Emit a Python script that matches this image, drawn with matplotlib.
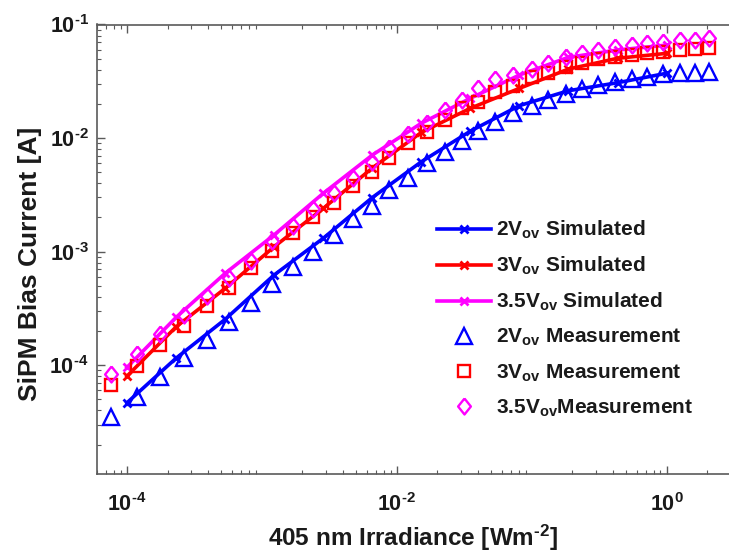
import numpy as np
import matplotlib
matplotlib.use("Agg")
import matplotlib.pyplot as plt
from matplotlib.ticker import LogLocator, NullFormatter

plt.rcParams['font.family'] = ['Liberation Sans', 'DejaVu Sans']
plt.rcParams['font.weight'] = 'bold'
plt.rcParams['mathtext.fontset'] = 'custom'
plt.rcParams['mathtext.rm'] = 'Liberation Sans:bold'
plt.rcParams['mathtext.bf'] = 'Liberation Sans:bold'
plt.rcParams['mathtext.it'] = 'Liberation Sans:bold'

# simulated (12 pts, 1e-4 .. 1)
sim_irr = [1.0e-4, 2.31e-4, 5.34e-4, 1.23e-3, 2.85e-3, 6.58e-3,
           1.52e-2, 3.51e-2, 8.11e-2, 0.187, 0.433, 1.0]
sim_2v = [4.66e-5, 1.15e-4, 2.53e-4, 6.21e-4, 1.31e-3, 2.99e-3,
          6.18e-3, 1.15e-2, 1.93e-2, 2.61e-2, 3.07e-2, 3.72e-2]
sim_3v = [8.0e-5, 2.17e-4, 4.74e-4, 1.10e-3, 2.40e-3, 5.44e-3,
          1.12e-2, 1.83e-2, 2.74e-2, 4.05e-2, 5.04e-2, 5.57e-2]
sim_35v = [9.55e-5, 2.63e-4, 6.43e-4, 1.40e-3, 3.26e-3, 7.08e-3,
           1.35e-2, 2.24e-2, 3.59e-2, 5.14e-2, 5.96e-2, 6.59e-2]

# measurement
meas_irr = [7.67e-5, 1.19e-4, 1.77e-4, 2.66e-4, 3.95e-4, 5.70e-4, 8.24e-4,
            1.18e-3, 1.70e-3, 2.38e-3, 3.41e-3, 4.70e-3, 6.53e-3, 8.81e-3,
            1.22e-2, 1.67e-2, 2.28e-2, 3.03e-2, 4.02e-2, 5.34e-2, 7.31e-2,
            0.100, 0.133, 0.179, 0.234, 0.311, 0.414, 0.551, 0.711, 0.944,
            1.26, 1.62, 2.07]
meas_2v = [3.50e-5, 5.26e-5, 7.89e-5, 1.15e-4, 1.68e-4, 2.41e-4, 3.54e-4,
           5.14e-4, 7.35e-4, 9.96e-4, 1.40e-3, 1.92e-3, 2.53e-3, 3.48e-3,
           4.47e-3, 5.98e-3, 7.57e-3, 9.41e-3, 1.15e-2, 1.39e-2, 1.65e-2,
           1.91e-2, 2.16e-2, 2.44e-2, 2.69e-2, 2.93e-2, 3.11e-2, 3.29e-2,
           3.47e-2, 3.66e-2, 3.72e-2, 3.76e-2, 3.84e-2]
meas_3v = [6.67e-5, 9.86e-5, 1.50e-4, 2.21e-4, 3.31e-4, 4.79e-4, 7.16e-4,
           1.01e-3, 1.47e-3, 2.01e-3, 2.70e-3, 3.78e-3, 5.01e-3, 6.62e-3,
           8.98e-3, 1.12e-2, 1.44e-2, 1.83e-2, 2.09e-2, 2.53e-2, 2.87e-2,
           3.47e-2, 3.76e-2, 4.25e-2, 4.61e-2, 4.93e-2, 5.20e-2, 5.38e-2,
           5.65e-2, 5.76e-2, 5.96e-2, 6.04e-2, 6.17e-2]
meas_35v = [8.33e-5, 1.25e-4, 1.88e-4, 2.76e-4, 4.09e-4, 5.90e-4, 8.24e-4,
            1.24e-3, 1.68e-3, 2.37e-3, 3.26e-3, 4.42e-3, 6.15e-3, 8.22e-3,
            1.08e-2, 1.35e-2, 1.77e-2, 2.16e-2, 2.74e-2, 3.31e-2, 3.59e-2,
            4.06e-2, 4.61e-2, 5.14e-2, 5.57e-2, 5.96e-2, 6.37e-2, 6.59e-2,
            6.83e-2, 7.05e-2, 7.30e-2, 7.35e-2, 7.55e-2]

x_ticks = [1e-4, 1e-2, 1e0]
x_ticklabels = [r'10$^{\text{-}4}$', r'10$^{\text{-}2}$', r'10$^{0}$']
y_ticks = [1e-4, 1e-3, 1e-2, 1e-1]
y_ticklabels = [r'10$^{\text{-}4}$', r'10$^{\text{-}3}$', r'10$^{\text{-}2}$', r'10$^{\text{-}1}$']

# slightly wider diamond than matplotlib's 'd'
diamond = [(0, 1), (0.8, 0), (0, -1), (-0.8, 0), (0, 1)]

fig = plt.figure(figsize=(7.29, 5.56), dpi=100)
ax = fig.add_axes([97/729, (556-474)/556, (729-97)/729, (474-24.5)/556])

ax.plot(sim_irr, sim_2v, color='#0000ff', lw=2.6, marker='x', ms=6, mew=2,
        label=r'2V$_{\rm ov}$ Simulated')
ax.plot(sim_irr, sim_3v, color='#ff0000', lw=2.6, marker='x', ms=6, mew=2,
        label=r'3V$_{\rm ov}$ Simulated')
ax.plot(sim_irr, sim_35v, color='#ff00ff', lw=2.6, marker='x', ms=6, mew=2,
        label=r'3.5V$_{\rm ov}$ Simulated')
ax.plot(meas_irr, meas_2v, ls='none', marker='^', ms=12, mfc='none', mec='#0000ff',
        mew=1.7, label=r'2V$_{\rm ov}$ Measurement')
ax.plot(meas_irr, meas_3v, ls='none', marker='s', ms=8.5, mfc='none', mec='#ff0000',
        mew=1.7, label=r'3V$_{\rm ov}$ Measurement')
ax.plot(meas_irr, meas_35v, ls='none', marker=diamond, ms=11.5, mfc='none', mec='#ff00ff',
        mew=1.7, label=r'3.5V$_{\rm ov}$Measurement')

ax.set_xscale('log')
ax.set_yscale('log')
ax.set_xlim(6e-5, 2.9)
ax.set_ylim(1.1e-5, 0.1)
ax.set_xticks(x_ticks)
ax.set_xticklabels(x_ticklabels)
ax.set_yticks(y_ticks)
ax.set_yticklabels(y_ticklabels)
ax.xaxis.set_minor_locator(LogLocator(base=10, subs=np.arange(2, 10), numticks=20))
ax.yaxis.set_minor_locator(LogLocator(base=10, subs=np.arange(2, 10), numticks=20))
ax.xaxis.set_minor_formatter(NullFormatter())
ax.yaxis.set_minor_formatter(NullFormatter())

for s in ax.spines.values():
    s.set_color('#5a5a5a')
    s.set_linewidth(1.2)
ax.spines['right'].set_visible(False)
ax.tick_params(which='both', direction='in', top=True, right=False, colors='#5a5a5a',
               labelcolor='#1a1a1a', labelsize=15.5)
ax.tick_params(which='major', length=6, width=1)
ax.tick_params(which='minor', length=3, width=0.8)
ax.tick_params(axis='x', which='major', pad=14)
ax.tick_params(axis='y', which='major', pad=6)

ax.set_xlabel('405 nm Irradiance [Wm$^{\\text{-}2}$]', fontsize=17.5, fontweight='bold',
              color='#1a1a1a', labelpad=5)
ax.set_ylabel('SiPM Bias Current [A]', fontsize=19, fontweight='bold',
              color='#1a1a1a')
ax.yaxis.set_label_coords(-0.087, 0.467)

leg = ax.legend(loc='upper left', bbox_to_anchor=(437/729, 1 - 219/556),
                bbox_transform=fig.transFigure, frameon=False, borderpad=0,
                borderaxespad=0, fontsize=15, handlelength=2.6,
                handletextpad=0.25, labelspacing=0.66)
for t in leg.get_texts():
    t.set_color('#1a1a1a')

fig.savefig('out.png', dpi=100)
